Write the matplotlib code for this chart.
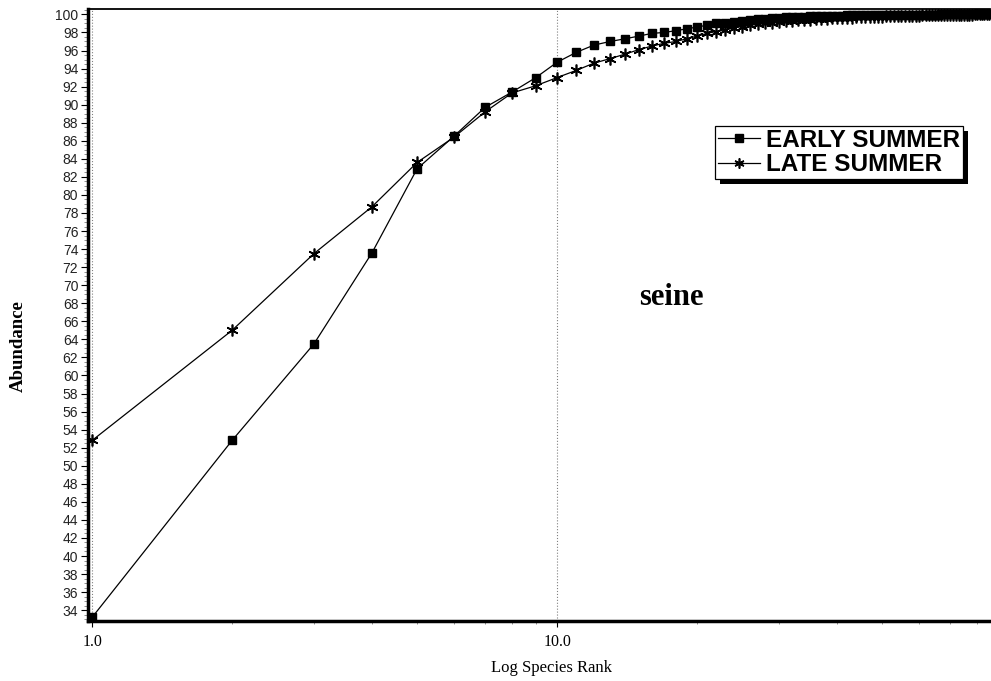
from matplotlib import pyplot as plt
from matplotlib import patches, transforms
from matplotlib.ticker import FixedLocator, MultipleLocator, NullFormatter
import numpy as np

# cumulative abundance (%) by species rank
early_summer = [
    33.2, 52.8, 63.5, 73.6, 82.9, 86.5, 89.7, 91.4, 93.0, 94.7,
    95.8, 96.6, 97.0, 97.3, 97.6, 97.9, 98.0, 98.2, 98.4, 98.6,
    98.8, 99.0, 99.1, 99.2, 99.3, 99.38, 99.45, 99.52, 99.58, 99.63,
    99.67, 99.7, 99.73, 99.76, 99.78, 99.8, 99.82, 99.84, 99.85, 99.86,
    99.87, 99.88, 99.89, 99.9, 99.91, 99.92, 99.92, 99.93, 99.93, 99.94,
    99.94, 99.95, 99.95, 99.95, 99.96, 99.96, 99.96, 99.97, 99.97, 99.97,
    99.97, 99.98, 99.98, 99.98, 99.98, 99.98, 99.99, 99.99, 99.99, 99.99,
    99.99, 99.99, 99.99, 100, 100, 100, 100, 100, 100, 100,
    100, 100, 100, 100, 100,
]
late_summer = [
    52.8, 65.0, 73.5, 78.7, 83.6, 86.4, 89.2, 91.3, 92.1, 93.0,
    93.8, 94.6, 95.1, 95.6, 96.1, 96.5, 96.8, 97.0, 97.3, 97.6,
    97.9, 98.1, 98.3, 98.5, 98.65, 98.8, 98.9, 99.0, 99.1, 99.2,
    99.25, 99.3, 99.35, 99.4, 99.43, 99.46, 99.49, 99.52, 99.55, 99.57,
    99.6, 99.62, 99.64, 99.66, 99.68, 99.7, 99.72, 99.73, 99.75, 99.76,
    99.77, 99.78, 99.8, 99.81, 99.82, 99.83, 99.84, 99.85, 99.86, 99.87,
    99.88, 99.89, 99.9, 99.9, 99.91, 99.92, 99.92, 99.93, 99.94, 99.94,
    99.95, 99.95, 99.96, 99.96, 99.97, 99.97, 99.98, 99.98, 99.99, 99.99,
    99.99, 100, 100, 100, 100,
]
series_labels = ["EARLY SUMMER", "LATE SUMMER"]
x_ticks = [1, 10]
x_tick_labels = ["1.0", "10.0"]

rank_early = np.arange(1, len(early_summer) + 1)
rank_late = np.arange(1, len(late_summer) + 1)

serif = "Liberation Serif"
sans = "Liberation Sans"

fig = plt.figure(figsize=(9.91, 6.81), dpi=100)
ax = fig.add_axes([0.0888, 0.0881, 0.9102, 0.8987])

e, = ax.plot(rank_early, early_summer, color="black", lw=0.9,
             marker="s", markersize=6.3, markerfacecolor="black",
             markeredgecolor="black")
l, = ax.plot(rank_late, late_summer, color="black", lw=0.9,
             marker=(6, 2, 0), markersize=8.5, markeredgewidth=1.2,
             markeredgecolor="black")

ax.set_xscale("log")
ax.set_xlim(0.98, 85.3)

ax.xaxis.set_major_locator(FixedLocator(x_ticks))
ax.set_xticklabels(x_tick_labels, fontfamily=serif, fontsize=11.5)
ax.xaxis.set_minor_formatter(NullFormatter())
ax.tick_params(axis="x", which="major", direction="out", length=4, width=0.8, pad=5)
ax.tick_params(axis="x", which="minor", direction="out", length=2, width=0.6, color="gray")
ax.xaxis.grid(True, which="major", color="gray", linestyle=":", linewidth=0.8)

ax.yaxis.set_major_locator(MultipleLocator(2))
ax.yaxis.set_minor_locator(MultipleLocator(0.5))
ax.set_ylim(32.8, 100.6)
for t in ax.get_yticklabels():
    t.set_fontfamily(sans)
ax.tick_params(axis="y", which="major", direction="out", length=5, width=0.8,
               labelsize=10, labelcolor="#222222", pad=2)
ax.tick_params(axis="y", which="minor", direction="out", length=3, width=0.6, color="gray")

ax.spines["left"].set_linewidth(2.5)
ax.spines["bottom"].set_linewidth(2.5)
ax.spines["top"].set_linewidth(1.3)
ax.spines["right"].set_visible(False)

ax.text(0.647, 0.528, "seine", transform=ax.transAxes, ha="center", va="center",
        fontfamily=serif, fontweight="bold", fontsize=22)
fig.text(0.018, 0.492, "Abundance", rotation=90, ha="center", va="center",
         fontfamily=serif, fontweight="bold", fontsize=13.5)
fig.text(0.557, 0.019, "Log Species Rank", ha="center", va="center",
         fontfamily=serif, fontsize=12)

leg = ax.legend((e, l), series_labels, loc="upper left",
                bbox_to_anchor=(0.695, 0.809), borderaxespad=0,
                prop={"family": sans, "weight": "bold", "size": 17.5},
                frameon=True, fancybox=False, edgecolor="black",
                framealpha=1, handlelength=1.75, handletextpad=0.25,
                borderpad=0.12, labelspacing=0.05, markerscale=0.85)
leg.get_frame().set_linewidth(0.9)
leg.set_zorder(5)

# solid black drop shadow behind the legend box
fig.canvas.draw()
bb = leg.get_window_extent()
shadow = patches.Rectangle((bb.x0 + 5, bb.y0 - 5), bb.width, bb.height,
                           transform=transforms.IdentityTransform(),
                           facecolor="black", edgecolor="none",
                           clip_on=False, zorder=4.5)
ax.add_patch(shadow)

fig.savefig("out.png", dpi=100)
